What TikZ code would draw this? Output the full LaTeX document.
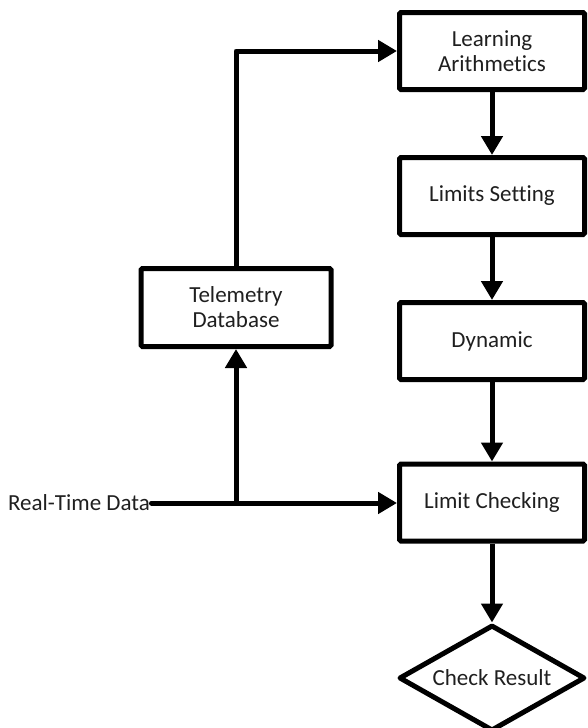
\documentclass[tikz,border=0pt]{standalone}
\usepackage{fontspec}
\setmainfont{Carlito}[Ligatures=NoCommon]
\usetikzlibrary{shapes.geometric,arrows.meta}
\begin{document}
\begin{tikzpicture}[x=1pt,y=1pt,
  every node/.style={font=\fontsize{23}{25}\selectfont, text=black!88},
  procbox/.style={draw, line width=5pt, minimum width=185pt, minimum height=77pt,
    inner sep=0pt, align=center, rounded corners=1.5pt, fill=white},
  decbox/.style={draw, diamond, line width=5pt, minimum width=186pt, minimum height=106pt,
    inner sep=0pt, aspect=1.75, line join=round},
  flow/.style={line width=5pt, line join=round,
    -{Triangle[length=19pt,width=21pt]}},
]
\useasboundingbox (0,0) rectangle (587,-728);

% main chain on the right
\node[procbox] (learn) at (492,-51)  {Learning\\Arithmetics};
\node[procbox] (limset) at (492,-196) {Limits Setting};
\node[procbox] (dyn)   at (492,-341) {Dynamic};
\node[procbox] (check) at (492,-502.5) {Limit Checking};
\node[decbox]  (res)   at (492,-678) {Check Result};

% telemetry store on the left
\node[procbox, minimum width=190pt, minimum height=78pt] (tdb) at (236,-307.5) {Telemetry\\Database};

% incoming data
\node[anchor=east, inner sep=0pt] (rt) at (150,-503) {Real-Time Data};
\coordinate (split) at (236,-503);

\draw[flow] (learn) -- (limset);
\draw[flow] (limset) -- (dyn);
\draw[flow] (dyn) -- (check);
\draw[flow] (check) -- (res);

\draw[line width=5pt, line cap=round] (rt.east) ++(1.5,0) -- (split);
\draw[flow] (split) -- (check.west |- split);
\draw[flow] (split) -- (tdb.south);
\draw[flow] (tdb.north) |- (learn.west);
\end{tikzpicture}
\end{document}
